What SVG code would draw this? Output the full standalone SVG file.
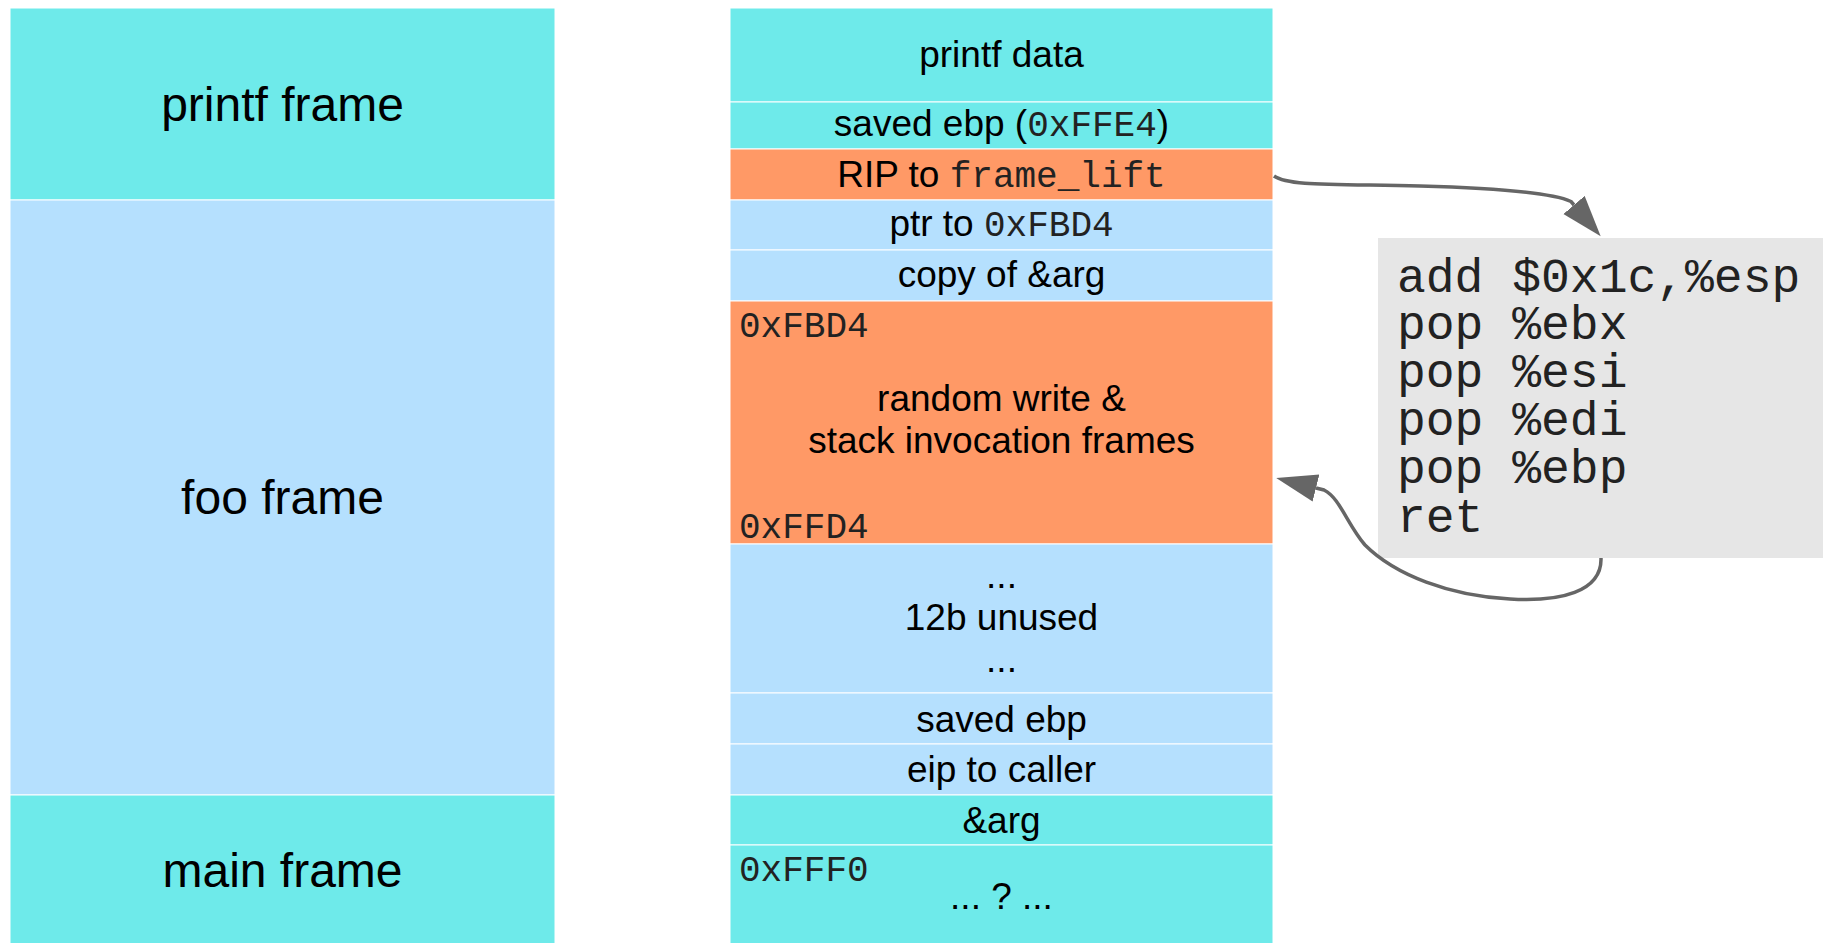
<svg xmlns="http://www.w3.org/2000/svg" width="1823" height="943" viewBox="0 0 1823 943">
<style>
.cy{fill:#6eeaea;stroke:#ffffff;stroke-width:1}
.lb{fill:#b5e0fe;stroke:#ffffff;stroke-width:1}
.or{fill:#ff9966;stroke:#ffffff;stroke-width:1}
.big{font-family:"Liberation Sans",Arial,sans-serif;font-size:48px;fill:#000;text-anchor:middle}
.t{font-family:"Liberation Sans",Arial,sans-serif;font-size:37px;fill:#000;text-anchor:middle}
.m{font-family:"Courier New","Nimbus Mono PS",FreeMono,"Liberation Mono",monospace;font-size:36px;fill:#222}
.code{font-family:"Courier New","Nimbus Mono PS",FreeMono,"Liberation Mono",monospace;font-size:48px;fill:#222}
.conn{fill:none;stroke:#666666;stroke-width:3.5}
</style>
<defs>
<marker id="ah" markerUnits="userSpaceOnUse" markerWidth="42" markerHeight="30" refX="0" refY="14" orient="auto" viewBox="0 0 42 30">
<path d="M0,0 L41,14 L0,28 z" fill="#666666"/>
</marker>
</defs>
<rect width="1823" height="943" fill="#ffffff"/>

<g id="printf-frame"><rect class="cy" x="10" y="8" width="545" height="192"/><text class="big" x="282.5" y="121">printf frame</text></g>
<g id="foo-frame"><rect class="lb" x="10" y="200" width="545" height="595"/><text class="big" x="282.5" y="514">foo frame</text></g>
<g id="main-frame"><rect class="cy" x="10" y="795" width="545" height="150"/><text class="big" x="282.5" y="887">main frame</text></g>

<g id="printf-data"><rect class="cy" x="730" y="8" width="543" height="94"/><text class="t" x="1001.5" y="67">printf data</text></g>
<g id="saved-ebp-printf"><rect class="cy" x="730" y="102" width="543" height="47"/><text class="t" x="1001.5" y="136">saved ebp (<tspan class="m">0xFFE4</tspan>)</text></g>
<g id="rip"><rect class="or" x="730" y="149" width="543" height="51"/><text class="t" x="1001.5" y="187">RIP to <tspan class="m">frame_lift</tspan></text></g>
<g id="ptr"><rect class="lb" x="730" y="200" width="543" height="50"/><text class="t" x="1001.5" y="236">ptr to <tspan class="m">0xFBD4</tspan></text></g>
<g id="copy-arg"><rect class="lb" x="730" y="250" width="543" height="51"/><text class="t" x="1001.5" y="287">copy of &amp;arg</text></g>
<g id="random-write"><rect class="or" x="730" y="301" width="543" height="243"/>
<text class="m" x="739" y="337">0xFBD4</text>
<text class="t" x="1001.5" y="411">random write &amp;</text>
<text class="t" x="1001.5" y="453">stack invocation frames</text>
<text class="m" x="739" y="538">0xFFD4</text></g>
<g id="unused"><rect class="lb" x="730" y="544" width="543" height="149"/>
<text class="t" x="1001.5" y="588">...</text>
<text class="t" x="1001.5" y="630">12b unused</text>
<text class="t" x="1001.5" y="672">...</text></g>
<g id="saved-ebp"><rect class="lb" x="730" y="693" width="543" height="51"/><text class="t" x="1001.5" y="732">saved ebp</text></g>
<g id="eip"><rect class="lb" x="730" y="744" width="543" height="51"/><text class="t" x="1001.5" y="782">eip to caller</text></g>
<g id="arg"><rect class="cy" x="730" y="795" width="543" height="50"/><text class="t" x="1001.5" y="833">&amp;arg</text></g>
<g id="main-data"><rect class="cy" x="730" y="845" width="543" height="100"/>
<text class="m" x="739" y="881">0xFFF0</text>
<text class="t" x="1001.5" y="909">... ? ...</text></g>

<g id="code"><rect x="1378" y="238" width="446" height="320" fill="#e6e6e6"/>
<text class="code" x="1397" y="292">add $0x1c,%esp</text>
<text class="code" x="1397" y="339">pop %ebx</text>
<text class="code" x="1397" y="387">pop %esi</text>
<text class="code" x="1397" y="435">pop %edi</text>
<text class="code" x="1397" y="483">pop %ebp</text>
<text class="code" x="1397" y="532">ret</text></g>

<g id="connectors">
<path class="conn" marker-end="url(#ah)" d="M1274,176 C1288,186 1330,184 1420,186 C1490,188 1550,192 1571,201.5 L1574,205"/>
<path class="conn" marker-end="url(#ah)" d="M1601,558 C1602,592 1560,602 1510,599 C1450,596 1395,575 1365,545 C1347,524 1340,498 1324,490 L1316,488"/>
</g>
</svg>
